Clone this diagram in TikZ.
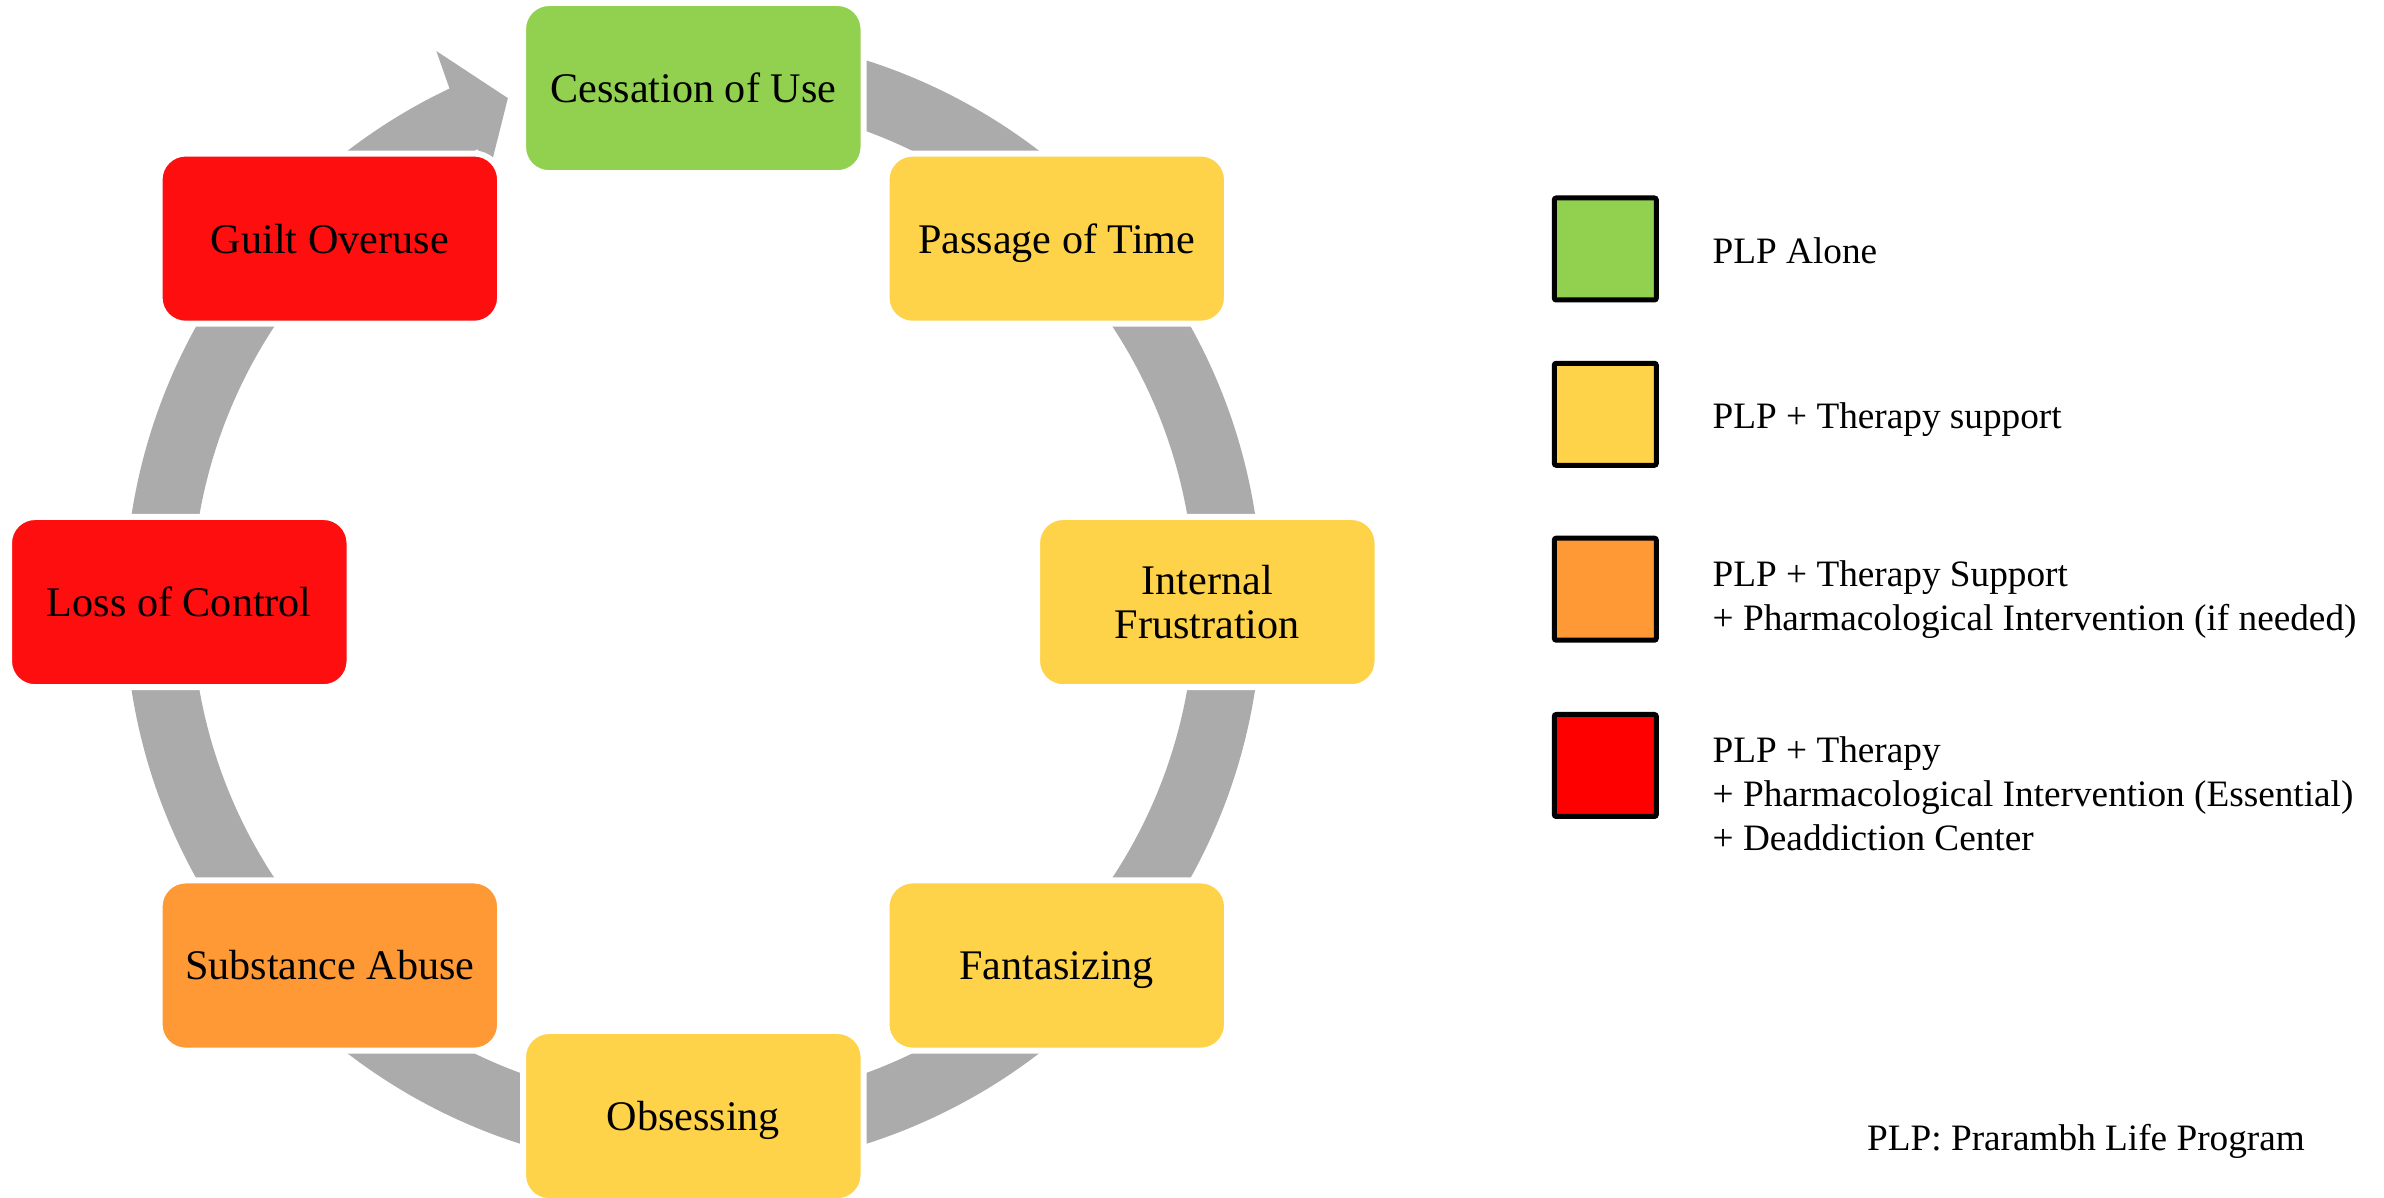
\documentclass[tikz,border=0pt]{standalone}
\usepackage{fontspec}
\setmainfont{Liberation Serif}
\usetikzlibrary{positioning, calc}
\definecolor{ringgray}{HTML}{ABABAB}
\definecolor{plpgreen}{HTML}{92D050}
\definecolor{plpyellow}{HTML}{FED249}
\definecolor{plporange}{HTML}{FE9935}
\definecolor{plpred}{HTML}{FE0E0E}
\definecolor{keyred}{HTML}{FF0000}

\begin{document}
\begin{tikzpicture}[
  stage/.style={rectangle, rounded corners=0.26cm, draw=white, line width=0.06cm,
                minimum width=3.405cm, minimum height=1.702cm, align=center,
                inner sep=0pt, font=\fontsize{12}{12.5}\selectfont},
  flat/.style={text depth=0pt},
  keybox/.style={rectangle, rounded corners=0.02cm, draw=black, line width=0.05cm,
                 minimum size=1.02cm, inner sep=0pt},
  keytext/.style={anchor=west, align=left, inner sep=0pt,
                  font=\fontsize{10.6}{12.5}\selectfont}]
\useasboundingbox (0,0) rectangle (23.84,11.98);
\coordinate (ctr) at (6.933,5.959);

% the cycle ring with its head
\draw[ringgray, line width=0.67cm] ($(ctr)+(90:5.35)$)
  arc[start angle=90, end angle=-245, radius=5.35];
\fill[ringgray] ($(ctr)+(115.4:5.68)$) -- ($(ctr)+(115.0:6.08)$)
  -- ($(ctr)+(110.2:5.37)$) -- ($(ctr)+(116.5:4.65)$)
  -- ($(ctr)+(115.4:5.02)$) -- cycle;

% stages
\node[stage, fill=plpgreen]        (cessation)   at ($(ctr)+(90:5.14)$)   {Cessation of Use};
\node[stage, flat, fill=plpyellow] (passage)     at ($(ctr)+(45:5.14)$)   {Passage of Time};
\node[stage, fill=plpyellow]       (frustration) at ($(ctr)+(0:5.14)$)    {Internal\\Frustration};
\node[stage, flat, fill=plpyellow] (fantasy)     at ($(ctr)+(-45:5.14)$)  {Fantasizing};
\node[stage, flat, fill=plpyellow] (obsessing)   at ($(ctr)+(-90:5.14)$)  {Obsessing};
\node[stage, fill=plporange]       (abuse)       at ($(ctr)+(-135:5.14)$) {Substance Abuse};
\node[stage, fill=plpred]          (control)     at ($(ctr)+(180:5.14)$)  {Loss of Control};
\node[stage, fill=plpred]          (guilt)       at ($(ctr)+(135:5.14)$)  {Guilt Overuse};

% key
\node[keybox, fill=plpgreen]  (kgreen)  at (16.053,9.49)  {};
\node[keybox, fill=plpyellow] (kyellow) at (16.053,7.837) {};
\node[keybox, fill=plporange] (korange) at (16.053,6.088) {};
\node[keybox, fill=keyred]    (kred)    at (16.053,4.325) {};
\node[keytext] (tgreen)  at (17.12,9.471) {PLP Alone};
\node[keytext] (tyellow) at (17.12,7.785) {PLP + Therapy support};
\node[keytext] (torange) at (17.12,5.985) {PLP + Therapy Support\\+ Pharmacological Intervention (if needed)};
\node[keytext] (tred)    at (17.12,4.044) {PLP + Therapy\\+ Pharmacological Intervention (Essential)\\+ Deaddiction Center};

\node[keytext, anchor=center] (plpnote) at (20.86,0.565) {PLP: Prarambh Life Program};
\end{tikzpicture}
\end{document}
